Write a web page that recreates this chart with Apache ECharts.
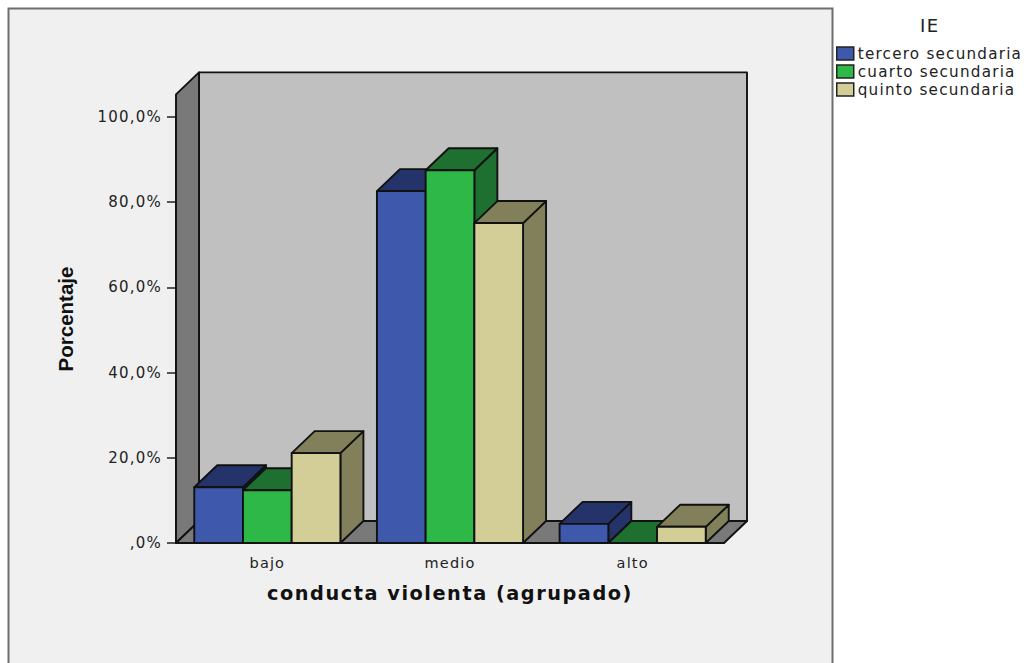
<!DOCTYPE html>
<html><head><meta charset="utf-8">
<style>html,body{margin:0;padding:0;background:#fff}#c{width:1026px;height:663px}
#c text{letter-spacing:.08em}
#c text[style*="Liberation"]{letter-spacing:0}
</style>
<script src="https://cdn.jsdelivr.net/npm/echarts@6/dist/echarts.min.js"></script>
</head><body><div id="c"></div>
<script>
const categories = ['bajo', 'medio', 'alto'];
const tercero = [13.1, 82.6, 4.5];
const cuarto = [12.4, 87.5, 0];
const quinto = [21.1, 75.1, 3.8];
const seriesNames = ['tercero secundaria', 'cuarto secundaria', 'quinto secundaria'];
const wallTop = [105.3];

const DX = 23, DY = -22, EDGE = '#111', LW = 1.9;
const palette = [
  {front:'#3e58ac', shade:'#25336b'},
  {front:'#2eb848', shade:'#1d702f'},
  {front:'#d3ce97', shade:'#81805a'}
];
function poly(points, fill){
  return {type:'polygon', shape:{points}, style:{fill, stroke:EDGE, lineWidth:LW, lineJoin:'round'}};
}
function bar3d(idx){
  return function(params, api){
    const c = api.coord([api.value(0), api.value(1)]);
    const base = api.coord([api.value(0), 0]);
    const band = api.size([1, 0])[0];
    const w = band * 0.8 / 3;
    const x0 = c[0] - band * 0.4 + idx * w, x1 = x0 + w, yt = c[1], yb = base[1];
    const p = palette[idx];
    return {type:'group', children:[
      poly([[x1,yb],[x1+DX,yb+DY],[x1+DX,yt+DY],[x1,yt]], p.shade),
      poly([[x0,yt],[x0+DX,yt+DY],[x1+DX,yt+DY],[x1,yt]], p.shade),
      poly([[x0,yt],[x1,yt],[x1,yb],[x0,yb]], p.front)
    ]};
  };
}
function walls(params, api){
  const top = api.coord([0, api.value(0)])[1];
  const base = api.coord([0, 0])[1];
  const r = params.coordSys;
  const L = r.x, R = r.x + r.width;
  return {type:'group', children:[
    poly([[L+DX,top+DY],[R+DX,top+DY],[R+DX,base+DY],[L+DX,base+DY]], '#c0c0c0'),
    poly([[L,top],[L+DX,top+DY],[L+DX,base+DY],[L,base]], '#797979'),
    poly([[L,base],[L+DX,base+DY],[R+DX,base+DY],[R,base]], '#797979')
  ]};
}
const valuesBySeries = [tercero, cuarto, quinto];
const chart = echarts.init(document.getElementById('c'), null, {renderer:'svg'});
const txt = 'DejaVu Sans';
chart.setOption({
  animation:false,
  backgroundColor:'#ffffff',
  title:{text:'IE', left:915, top:11, textStyle:{fontFamily:txt, fontSize:18, fontWeight:'normal', color:'#222'}},
  legend:{
    orient:'vertical', left:836, top:46, padding:0, itemWidth:17, itemHeight:13, itemGap:3,
    icon:'rect', selectedMode:false,
    itemStyle:{borderColor:'#222', borderWidth:1.5},
    textStyle:{fontFamily:txt, fontSize:15.2, color:'#222', padding:[0,0,0,-1]},
    data:seriesNames
  },
  graphic:[{type:'rect', z:-10, shape:{x:8.5,y:8.5,width:824,height:690},
    style:{fill:'#f0f0f0', stroke:'#6e6e6e', lineWidth:2}}],
  grid:{left:176, top:117, width:548, height:426, containLabel:false},
  xAxis:{
    type:'category', data:categories,
    name:'conducta violenta (agrupado)', nameLocation:'middle', nameGap:41,
    nameTextStyle:{fontFamily:txt, fontWeight:'bold', fontSize:19.3, color:'#111'},
    axisLine:{lineStyle:{color:'#111', width:1.5}},
    axisTick:{alignWithLabel:true, length:7, lineStyle:{color:'#222', width:1.5}},
    axisLabel:{fontFamily:txt, fontSize:14.5, color:'#222', margin:12}
  },
  yAxis:{
    type:'value', min:0, max:100, interval:20,
    name:'Porcentaje', nameLocation:'middle', nameGap:100, nameRotate:90,
    nameTextStyle:{fontFamily:'Liberation Sans', fontWeight:'bold', fontSize:20.5, color:'#111', padding:[0,0,0,22]},
    splitLine:{show:false},
    axisLine:{show:true, lineStyle:{color:'#111', width:1.5}},
    axisTick:{show:true, length:9, lineStyle:{color:'#222', width:1.5}},
    axisLabel:{fontFamily:txt, fontSize:15, color:'#222', margin:14,
      formatter:v => v === 0 ? ',0%' : v.toFixed(1).replace('.', ',') + '%'}
  },
  series:[
    {type:'custom', silent:true, z:1, renderItem:walls, data:[[wallTop[0]]], encode:{x:-1,y:-1}, clip:false, legendHoverLink:false}
  ].concat(valuesBySeries.map((vals,i)=>({
    type:'custom', name:seriesNames[i], z:2+i, clip:false, renderItem:bar3d(i),
    itemStyle:{color:palette[i].front},
    encode:{x:0,y:1},
    data:vals.map((v,k)=>[k,v])
  })))
});
</script></body></html>
